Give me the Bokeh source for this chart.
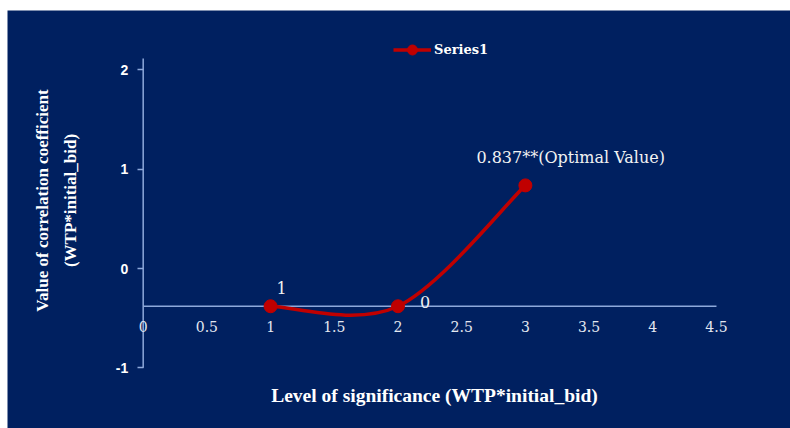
import math

from bokeh.plotting import figure
from bokeh.models import FixedTicker, Label, Spacer, Legend, LegendItem, Range1d
from bokeh.layouts import column, row
from bokeh.embed import file_html
from bokeh.resources import INLINE

# Series1: correlation coefficient at each level of significance
levels = [1, 2, 3]
coefficients = [-0.38, -0.38, 0.837]
point_labels = ["1", "0", "0.837**(Optimal Value)"]

x_ticks = [0, 0.5, 1, 1.5, 2, 2.5, 3, 3.5, 4, 4.5]
x_tick_labels = ["0", "0.5", "1", "1.5", "2", "2.5", "3", "3.5", "4", "4.5"]
y_ticks = [-1, 0, 1, 2]
y_tick_labels = ["-1", "0", "1", "2"]
x_axis_crossing = -0.38
y_axis_top = 2.115

NAVY = "#002060"
RED = "#C00000"
AXIS = "#8EA9DB"
SERIF = "DejaVu Serif"
TITLE_FONT = "Liberation Serif"


def smooth_segments(xs, ys):
    """Cubic Bezier pieces for a smoothed line through the points."""
    px = [xs[0]] + list(xs) + [xs[-1]]
    py = [ys[0]] + list(ys) + [ys[-1]]
    seg = dict(x0=[], y0=[], x1=[], y1=[], cx0=[], cy0=[], cx1=[], cy1=[])
    for i in range(1, len(px) - 2):
        seg["x0"].append(px[i])
        seg["y0"].append(py[i])
        seg["x1"].append(px[i + 1])
        seg["y1"].append(py[i + 1])
        seg["cx0"].append(px[i] + (px[i + 1] - px[i - 1]) / 6)
        seg["cy0"].append(py[i] + (py[i + 1] - py[i - 1]) / 6)
        seg["cx1"].append(px[i + 1] - (px[i + 2] - px[i]) / 6)
        seg["cy1"].append(py[i + 1] - (py[i + 2] - py[i]) / 6)
    return seg


# the data frame fills the whole chart area; both axes sit at fixed positions inside it
p = figure(
    width=783, height=418,
    min_border=0,
    x_range=Range1d(-1.065, 5.081), y_range=Range1d(-1.611, 2.598),
    output_backend="svg", toolbar_location=None,
    background_fill_color=NAVY, border_fill_color=NAVY,
)
p.outline_line_color = None
p.grid.visible = False

xa = p.xaxis[0]
xa.fixed_location = x_axis_crossing
xa.ticker = FixedTicker(ticks=x_ticks)
xa.major_label_overrides = dict(zip(x_ticks, x_tick_labels))
xa.axis_line_color = None
xa.major_tick_line_color = None
xa.minor_tick_line_color = None
xa.major_label_standoff = 9
xa.major_label_text_font = SERIF
xa.major_label_text_font_size = "14px"
xa.major_label_text_color = "#E4E8F0"

ya = p.yaxis[0]
ya.fixed_location = 0
ya.ticker = FixedTicker(ticks=y_ticks)
ya.major_label_overrides = dict(zip(y_ticks, y_tick_labels))
ya.axis_line_color = None
ya.major_tick_line_color = AXIS
ya.major_tick_line_width = 1.5
ya.major_tick_out = 6
ya.major_tick_in = 0
ya.minor_tick_line_color = None
ya.major_label_standoff = 9
ya.major_label_text_font = "Liberation Sans"
ya.major_label_text_font_style = "bold"
ya.major_label_text_font_size = "14px"
ya.major_label_text_color = "white"

# axis lines, limited to the tick extents
p.segment(
    x0=[x_ticks[0], 0], y0=[x_axis_crossing, y_ticks[0]],
    x1=[x_ticks[-1], 0], y1=[x_axis_crossing, y_axis_top],
    line_color=AXIS, line_width=1.5,
)

# axis titles
p.add_layout(Label(
    x=49, y=228, x_units="screen", y_units="screen", angle=math.pi / 2,
    text="Value of correlation coefficient\n(WTP*initial_bid)",
    text_align="center", text_baseline="middle", text_line_height=1.45,
    text_font=TITLE_FONT, text_font_style="bold", text_font_size="17px",
    text_color="white",
))
p.add_layout(Label(
    x=427, y=33, x_units="screen", y_units="screen",
    text="Level of significance (WTP*initial_bid)",
    text_align="center", text_baseline="middle",
    text_font=TITLE_FONT, text_font_style="bold", text_font_size="19.5px",
    text_color="white",
))

seg = smooth_segments(levels, coefficients)
curve = p.bezier(
    x0=seg["x0"], y0=seg["y0"], x1=seg["x1"], y1=seg["y1"],
    cx0=seg["cx0"], cy0=seg["cy0"], cx1=seg["cx1"], cy1=seg["cy1"],
    line_color=RED, line_width=3.5,
)
dots = p.scatter(levels, coefficients, size=13, color=RED)

# data labels next to each point
label_style = [
    dict(x_offset=11, y_offset=18, text_align="center"),
    dict(x_offset=27, y_offset=4, text_align="center"),
    dict(x_offset=-49, y_offset=28, text_align="left"),
]
for xv, yv, txt, st in zip(levels, coefficients, point_labels, label_style):
    p.add_layout(Label(
        x=xv, y=yv, text=txt, text_baseline="middle",
        text_font=SERIF, text_font_size="16px", text_color="#F2F2F2", **st,
    ))

legend = Legend(
    items=[LegendItem(label="Series1", renderers=[curve, dots])],
    location=(386, 366), orientation="horizontal",
    padding=0, margin=0, spacing=0,
    glyph_width=38, glyph_height=25, label_height=25, label_standoff=3,
    label_text_font=SERIF, label_text_font_style="bold", label_text_font_size="13px",
    label_text_color="white",
    background_fill_alpha=0, border_line_color=None,
)
p.add_layout(legend, "center")

page = column(Spacer(height=10), row(Spacer(width=7), p))
open("out.html", "w").write(file_html(page, INLINE))
